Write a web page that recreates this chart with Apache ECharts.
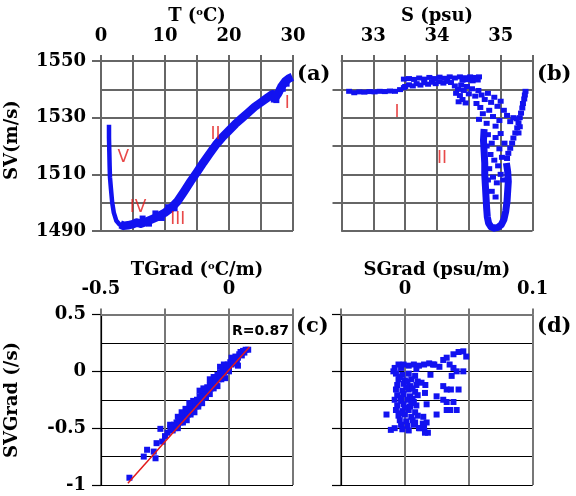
<!DOCTYPE html>
<html>
<head>
<meta charset="utf-8">
<script src="https://cdn.jsdelivr.net/npm/echarts@6/dist/echarts.min.js"></script>
<style>
  html, body { margin: 0; padding: 0; background: #fff; }
  #chart { width: 576px; height: 496px; }
</style>
</head>
<body>
<div id="chart"></div>
<script>
// ---- data ----
// (a) SV vs T : the profile, drawn as a thick line
const svTempUpper = [ // branch V (deep cold water)
  [1.25, 1527.5], [1.25, 1523], [1.3, 1518], [1.35, 1513], [1.4, 1509], [1.55, 1505],
  [1.75, 1500], [2.0, 1496.5], [2.4, 1493.6], [2.9, 1492.3], [3.5, 1491.8]
];
const svTempMain = [
  [3.0, 1492.3], [3.5, 1491.8], [4.2, 1492.0], [5.0, 1492.4], [5.6, 1493.0], [6.2, 1492.6],
  [7.0, 1493.2], [8.0, 1494.2], [9.0, 1495.2], [10.0, 1496.5], [11.0, 1498.2], [12.0, 1500.6],
  [13.0, 1504.0], [14.0, 1507.5], [15.0, 1510.8], [16.0, 1514.2], [17.0, 1517.4], [18.0, 1520.5],
  [19.0, 1523.2], [20.0, 1525.5], [21.0, 1527.8], [22.0, 1529.8], [23.0, 1531.8], [24.0, 1533.8],
  [25.0, 1535.4], [26.0, 1537.0], [26.8, 1538.3], [27.2, 1537.0], [27.7, 1538.6], [28.2, 1541.0],
  [28.8, 1542.8], [29.4, 1543.9], [29.9, 1544.4]
];
const svTempExtra = [
  [26.6, 1537.2], [27.0, 1536.4], [27.4, 1536.2], [27.9, 1539.6], [28.4, 1540.2], [29.0, 1542.0],
  [7.5, 1492.6], [9.5, 1494.6], [11.5, 1498.0], [6.5, 1494.4], [8.5, 1496.2], [10.5, 1498.4]
];
const tempZones = [[29.1, 1535, 'I'], [17.9, 1524.2, 'II'], [12.0, 1493.9, 'III'], [5.8, 1498.4, 'IV'], [3.5, 1516, 'V']];

// (b) SV vs S
const svSalPoints = [
  [32.62, 1539.3], [32.7, 1538.8], [32.78, 1539.1], [32.86, 1539.0], [32.94, 1539.2], [33.02, 1539.1],
  [33.1, 1539.3], [33.18, 1539.2], [33.26, 1539.4], [33.34, 1539.3], [33.42, 1539.9], [33.48, 1540.6],
  [33.5, 1541.0], [33.56, 1541.6], [33.62, 1541.2], [33.68, 1542.0], [33.74, 1541.5], [33.8, 1542.3],
  [33.86, 1541.8], [33.92, 1542.5], [33.98, 1542.0], [34.04, 1542.7], [34.1, 1542.2], [34.16, 1542.8],
  [34.22, 1542.4], [33.48, 1543.6], [33.56, 1543.8], [33.64, 1543.5], [33.72, 1544.0], [33.8, 1543.6],
  [33.88, 1544.2], [33.96, 1543.8], [34.04, 1544.3], [34.12, 1543.9], [34.2, 1544.4], [34.28, 1544.0],
  [34.36, 1544.4], [34.44, 1544.1], [34.52, 1544.4], [34.6, 1544.2], [34.66, 1544.4], [34.4, 1543.2],
  [34.48, 1543.4], [34.56, 1543.0], [34.64, 1543.3],
  [34.28, 1541.2], [34.33, 1540.0], [34.38, 1541.5], [34.3, 1538.6], [34.36, 1537.8], [34.42, 1539.6],
  [34.47, 1541.0], [34.5, 1538.4], [34.4, 1536.4], [34.45, 1535.2], [34.55, 1540.2], [34.6, 1537.6],
  [34.34, 1535.6],
  [34.65, 1539.6], [34.7, 1538.0], [34.62, 1535.0], [34.68, 1533.6], [34.75, 1536.4], [34.8, 1538.6],
  [34.85, 1535.4], [34.9, 1537.2], [34.95, 1534.0], [34.72, 1531.4], [34.82, 1532.6], [34.88, 1530.4],
  [35.0, 1535.8], [35.05, 1532.6], [35.1, 1530.8], [34.98, 1529.0], [35.15, 1528.6], [35.2, 1530.0],
  [34.66, 1529.4], [34.78, 1528.0], [34.92, 1527.0],
  [35.39, 1539.3], [35.38, 1538.0], [35.37, 1536.6], [35.35, 1535.0], [35.34, 1533.4], [35.32, 1531.6],
  [35.3, 1530.0], [35.28, 1528.2], [35.26, 1526.4], [35.23, 1524.6], [35.2, 1522.8], [35.18, 1521.0],
  [35.15, 1519.2], [35.12, 1517.4], [35.1, 1515.6], [35.25, 1529.6], [35.28, 1524.6], [35.3, 1526.8],
  [34.8, 1524], [34.86, 1521], [34.92, 1523], [34.98, 1519], [34.84, 1517], [34.9, 1515],
  [34.96, 1513], [35.02, 1516], [34.82, 1512], [34.88, 1509], [34.94, 1507], [35.0, 1510],
  [35.04, 1508], [34.86, 1504], [34.92, 1502], [34.8, 1508], [35.06, 1521], [35.0, 1524.4], [34.78, 1520]
];
const svSalLoop = [
  [34.74, 1526], [34.73, 1522], [34.74, 1518], [34.75, 1514], [34.75, 1510], [34.76, 1506],
  [34.77, 1502], [34.78, 1498], [34.79, 1495], [34.81, 1492.8], [34.85, 1491.4], [34.9, 1491],
  [34.96, 1491.3], [35.01, 1492.2], [35.05, 1494], [35.08, 1497], [35.1, 1500.5], [35.11, 1504],
  [35.12, 1507.5], [35.11, 1511], [35.09, 1514]
];
const salZones = [[33.37, 1531.9, 'I'], [34.08, 1515.5, 'II']];

// (c) SVGrad vs TGrad
const gradTempPoints = [
  [0.075, 0.19], [0.065, 0.19], [0.055, 0.18], [0.06, 0.165], [0.045, 0.17], [0.05, 0.14],
  [0.04, 0.15], [0.035, 0.12], [0.03, 0.1], [0.025, 0.13], [0.02, 0.08], [0.015, 0.1],
  [0.01, 0.06], [0.005, 0.08], [0.0, 0.04], [-0.005, 0.06], [-0.01, 0.02], [-0.015, 0.04],
  [-0.02, -0.01], [-0.025, 0.02], [-0.03, -0.04], [-0.035, -0.01], [-0.04, -0.07], [-0.045, -0.03],
  [-0.05, -0.1], [-0.055, -0.06], [-0.06, -0.13], [-0.065, -0.09], [-0.07, -0.15], [-0.075, -0.12],
  [-0.08, -0.18], [-0.085, -0.14], [-0.09, -0.21], [-0.095, -0.17], [-0.1, -0.23], [-0.105, -0.2],
  [-0.11, -0.26], [-0.115, -0.22], [-0.12, -0.29], [-0.125, -0.25], [-0.13, -0.31], [-0.135, -0.28],
  [-0.14, -0.33], [-0.145, -0.3], [-0.15, -0.36], [-0.155, -0.33], [-0.16, -0.38], [-0.165, -0.35],
  [-0.17, -0.4], [-0.175, -0.37], [-0.18, -0.43], [-0.185, -0.4], [-0.19, -0.45], [-0.195, -0.42],
  [-0.2, -0.47], [-0.205, -0.45], [-0.21, -0.5], [-0.215, -0.47], [-0.22, -0.52], [-0.228, -0.5],
  [-0.24, -0.54], [-0.25, -0.57],
  [0.03, 0.07], [0.0, 0.0], [-0.03, -0.07], [-0.06, -0.15], [-0.09, -0.23], [-0.12, -0.31],
  [-0.15, -0.38], [-0.18, -0.45], [-0.2, -0.5],
  [-0.02, 0.06], [-0.06, -0.05], [-0.1, -0.15], [-0.14, -0.26], [-0.17, -0.33], [-0.2, -0.4], [-0.23, -0.47],
  [-0.035, 0.04], [-0.075, -0.07], [-0.115, -0.17], [-0.155, -0.28], [-0.185, -0.36], [0.01, 0.12],
  [0.035, 0.05], [-0.015, -0.06], [-0.045, -0.13], [-0.075, -0.2], [-0.105, -0.28], [-0.135, -0.36], [-0.165, -0.43],
  [-0.389, -0.936], [-0.333, -0.75], [-0.32, -0.69], [-0.294, -0.706], [-0.287, -0.765],
  [-0.283, -0.632], [-0.268, -0.506], [-0.261, -0.618], [-0.228, -0.515]
];
const gradTempFit = [[-0.395, -0.985], [0.08, 0.215]];
const gradTempR = 'R=0.87';

// (d) SVGrad vs SGrad
const gradSalPoints = [
  [-0.008, 0.03], [-0.005, 0.06], [-0.001, 0.06], [0.003, 0.05], [0.007, 0.06], [0.011, 0.05],
  [0.015, 0.06], [0.019, 0.07], [0.023, 0.06], [0.027, 0.04], [0.009, 0.02], [-0.009, 0.0],
  [-0.007, -0.02], [-0.002, -0.03], [0.003, -0.02], [0.008, -0.04],
  [-0.005, -0.07], [0.0, -0.08], [0.005, -0.07], [0.01, -0.09],
  [-0.006, -0.12], [-0.001, -0.11], [0.004, -0.13], [0.009, -0.12],
  [-0.007, -0.16], [-0.002, -0.17], [0.003, -0.16], [0.008, -0.18],
  [-0.006, -0.21], [-0.001, -0.2], [0.004, -0.22], [0.01, -0.21],
  [-0.008, -0.25], [-0.003, -0.26], [0.002, -0.25], [0.007, -0.27],
  [-0.006, -0.3], [-0.001, -0.29], [0.004, -0.31], [0.009, -0.3],
  [-0.007, -0.34], [-0.002, -0.35], [0.003, -0.34], [0.008, -0.36],
  [-0.005, -0.39], [0.0, -0.38], [0.005, -0.4], [0.01, -0.39],
  [-0.004, -0.43], [0.001, -0.44], [0.006, -0.43],
  [-0.003, -0.47], [0.002, -0.48], [0.007, -0.47],
  [-0.002, -0.51], [0.003, -0.52],
  [-0.0144, -0.38], [-0.011, -0.515], [-0.008, -0.5], [0.011, -0.5], [0.015, -0.49], [0.018, -0.54], [0.014, -0.46],
  [0.022, 0.06], [0.03, 0.1], [0.038, 0.15], [0.042, 0.17], [0.0457, 0.176], [0.048, 0.13],
  [0.0327, 0.12], [0.035, 0.06], [0.038, 0.03], [0.0405, 0.0], [0.0457, 0.0], [0.0366, -0.04],
  [0.03, -0.13], [0.0327, -0.16], [0.036, -0.16], [0.042, -0.16],
  [0.0248, -0.22], [0.03, -0.25], [0.0327, -0.27], [0.038, -0.27], [0.0405, -0.34], [0.0327, -0.34],
  [0.0248, -0.38], [0.0353, -0.34], [0.0157, -0.19], [0.017, -0.29], [0.0144, -0.4], [0.017, -0.45],
  [0.0157, -0.54], [0.0117, -0.5], [0.013, -0.1], [0.02, -0.03], [0.016, -0.12],
  [-0.004, -0.05], [0.001, -0.14], [-0.003, -0.23], [0.005, -0.28], [-0.004, -0.37], [0.006, -0.24],
  [0.002, -0.09], [-0.003, 0.03], [0.006, -0.15], [0.0, -0.32], [0.008, -0.45]
];

// tick labels
const tempLabels = [0, 10, 20, 30];
const salLabels = [33, 34, 35];
const svLabels = [1490, 1510, 1530, 1550];
const svTicksB = [1500, 1520, 1540];
const tGradLabels = [-0.5, 0];
const sGradLabels = [0, 0.1];
const svGradLabels = [0.5, 0, -0.5, -1];

// ---- styling ----
const SERIF = 'DejaVu Serif';
const BLUE = '#1212f0';
const RED = '#e21b1b';
const GREY_A = '#666666';
const GREY_C = '#777777';

function only(list) {
  return function (v) {
    return list.some(t => Math.abs(t - v) < 1e-9) ? String(v) : '';
  };
}
function ls(color, width) { return { color: color, width: width, type: 'solid' }; }

function nameStyle() {
  return {
    fontFamily: SERIF, fontWeight: 'bold', fontSize: 18, color: '#000',
    rich: { s: { fontFamily: SERIF, fontWeight: 'bold', fontSize: 10, verticalAlign: 'top', lineHeight: 18, color: '#000' } }
  };
}
function labelStyle(labels) {
  return { margin: 16, fontFamily: SERIF, fontWeight: 'bold', fontSize: 18, color: '#000', formatter: only(labels) };
}

// x axes sit on top of each panel; vertical grid lines come from their split lines
function xAx(gi, min, max, step, labels, name, color, width, gap) {
  return {
    type: 'value', gridIndex: gi, position: 'top', min: min, max: max, interval: step,
    name: name, nameLocation: 'middle', nameGap: gap, nameTextStyle: nameStyle(),
    axisLine: { show: true, onZero: false, lineStyle: ls(color, width) },
    axisTick: { show: true, length: 6, lineStyle: ls(color, width) },
    axisLabel: labelStyle(labels),
    splitLine: { show: true, showMinLine: true, showMaxLine: true, lineStyle: ls(color, width) }
  };
}
// y axis carrying the horizontal grid lines
function yGrid(gi, min, max, step, color, width) {
  return {
    type: 'value', gridIndex: gi, position: 'left', min: min, max: max, interval: step,
    axisLine: { show: true, onZero: false, lineStyle: ls(color, width) },
    axisTick: { show: false },
    axisLabel: { show: false },
    splitLine: { show: true, showMinLine: true, showMaxLine: true, lineStyle: ls(color, width) }
  };
}
// y axis carrying long ticks and labels, moved onto the left edge of the panel
function yTicks(gi, width, min, max, step, labels, color, lw) {
  return {
    type: 'value', gridIndex: gi, position: 'right', offset: -width, min: min, max: max, interval: step,
    axisLine: { show: false, onZero: false },
    axisTick: { show: true, inside: true, length: 9, lineStyle: ls(color, lw) },
    axisLabel: Object.assign(labelStyle(labels), { show: labels.length > 0, inside: true, margin: 15 }),
    splitLine: { show: false }
  };
}

const zoneLabel = {
  show: true, position: 'inside', formatter: p => p.data[2],
  fontFamily: 'DejaVu Sans', fontSize: 17, color: RED
};
const dotStyle = { color: BLUE, opacity: 1 };

const yTickB = yTicks(1, 191, 1490, 1550, 10, [], GREY_A, 2);
yTickB.axisTick.customValues = svTicksB;

const chart = echarts.init(document.getElementById('chart'), null, { renderer: 'canvas' });
chart.setOption({
  backgroundColor: '#fff',
  animation: false,
  grid: [
    { left: 101, top: 61, width: 192, height: 170, outerBoundsMode: 'none' },
    { left: 341.5, top: 61, width: 191, height: 170, outerBoundsMode: 'none' },
    { left: 101, top: 314.5, width: 192, height: 170.5, outerBoundsMode: 'none' },
    { left: 341, top: 314.5, width: 191.7, height: 170.5, outerBoundsMode: 'none' }
  ],
  xAxis: [
    xAx(0, 0, 30, 5, tempLabels, 'T ({s|o}C)', GREY_A, 2, 36),
    xAx(1, 32.5, 35.5, 0.5, salLabels, 'S (psu)', GREY_A, 2, 36),
    xAx(2, -0.5, 0.25, 0.25, tGradLabels, 'TGrad ({s|o}C/m)', GREY_C, 2, 32),
    xAx(3, -0.05, 0.1, 0.05, sGradLabels, 'SGrad (psu/m)', GREY_C, 2, 32)
  ],
  yAxis: [
    yGrid(0, 1490, 1550, 10, GREY_A, 2),
    yTicks(0, 192, 1490, 1550, 20, svLabels, GREY_A, 2),
    yGrid(1, 1490, 1550, 10, GREY_A, 2),
    yTickB,
    yGrid(2, -1, 0.5, 0.25, '#000', 1.2),
    yTicks(2, 192, -1, 0.5, 0.5, svGradLabels, '#000', 1.2),
    yGrid(3, -1, 0.5, 0.25, '#000', 1.2),
    yTicks(3, 191.7, -1, 0.5, 0.5, [], '#000', 1.2)
  ],
  series: [
    {
      type: 'line', xAxisIndex: 0, yAxisIndex: 0, data: svTempUpper, showSymbol: false,
      lineStyle: { color: BLUE, width: 4.5, cap: 'butt', join: 'round' }
    },
    {
      type: 'line', xAxisIndex: 0, yAxisIndex: 0, data: svTempMain, showSymbol: false,
      lineStyle: { color: BLUE, width: 8.5, cap: 'butt', join: 'round' }
    },
    {
      type: 'scatter', xAxisIndex: 0, yAxisIndex: 0, data: svTempExtra, symbol: 'rect', symbolSize: 6,
      itemStyle: dotStyle
    },
    {
      type: 'scatter', xAxisIndex: 0, yAxisIndex: 0, data: tempZones, symbolSize: 0, label: zoneLabel, z: 5
    },
    {
      type: 'line', xAxisIndex: 1, yAxisIndex: 2, data: svSalLoop, showSymbol: false,
      lineStyle: { color: BLUE, width: 7, join: 'round' }
    },
    {
      type: 'scatter', xAxisIndex: 1, yAxisIndex: 2, data: svSalPoints, symbol: 'rect', symbolSize: [6, 5],
      itemStyle: dotStyle
    },
    {
      type: 'scatter', xAxisIndex: 1, yAxisIndex: 2, data: salZones, symbolSize: 0, label: zoneLabel, z: 5
    },
    {
      type: 'scatter', xAxisIndex: 2, yAxisIndex: 4, data: gradTempPoints, symbol: 'rect', symbolSize: 6,
      itemStyle: dotStyle
    },
    {
      type: 'line', xAxisIndex: 2, yAxisIndex: 4, data: gradTempFit, showSymbol: false, z: 4,
      lineStyle: { color: RED, width: 1.5 }
    },
    {
      type: 'scatter', xAxisIndex: 3, yAxisIndex: 6, data: gradSalPoints, symbol: 'rect', symbolSize: 6,
      itemStyle: dotStyle
    }
  ],
  graphic: [
    {
      type: 'text', x: 12, y: 140, rotation: Math.PI / 2,
      style: { text: 'SV(m/s)', font: 'bold 18px "DejaVu Serif"', fill: '#000', align: 'center', verticalAlign: 'middle' }
    },
    {
      type: 'text', x: 12, y: 400, rotation: Math.PI / 2,
      style: { text: 'SVGrad (/s)', font: 'bold 18px "DejaVu Serif"', fill: '#000', align: 'center', verticalAlign: 'middle' }
    },
    { type: 'text', left: 297, top: 64, style: { text: '(a)', font: 'bold 21px "DejaVu Serif"', fill: '#000' } },
    { type: 'text', left: 537, top: 64, style: { text: '(b)', font: 'bold 21px "DejaVu Serif"', fill: '#000' } },
    { type: 'text', left: 296, top: 316, style: { text: '(c)', font: 'bold 21px "DejaVu Serif"', fill: '#000' } },
    { type: 'text', left: 537, top: 316, style: { text: '(d)', font: 'bold 21px "DejaVu Serif"', fill: '#000' } },
    {
      type: 'text', left: 231, top: 323, z: 10,
      style: { text: gradTempR, font: 'bold 14px "DejaVu Sans"', fill: '#000', backgroundColor: '#fff', padding: [1, 1] }
    }
  ]
});
</script>
</body>
</html>
